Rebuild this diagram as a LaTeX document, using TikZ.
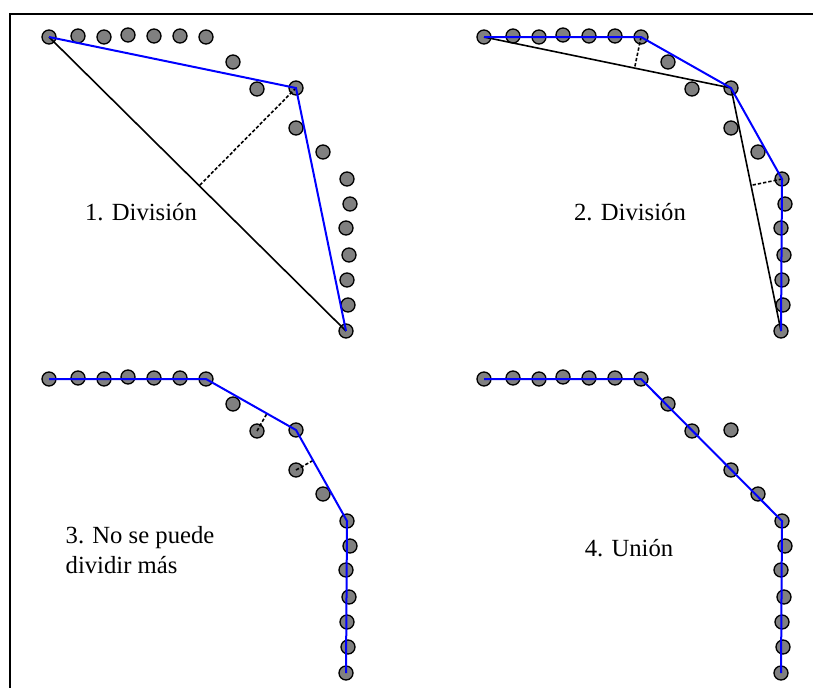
\documentclass[tikz,border=0pt]{standalone}
\usepackage{fontspec}
\setmainfont{Liberation Serif}
\usetikzlibrary{calc}

\begin{document}
\begin{tikzpicture}[x=0.75pt,y=-0.75pt,
    dot/.style={circle,draw=black,fill=gray,line width=1pt,inner sep=0pt,minimum size=10.5pt},
    chord/.style={black,line width=1.2pt},
    hull/.style={blue,line width=1.5pt},
    gap/.style={black,line width=1.2pt,dash pattern=on 2.5pt off 1.5pt},
    lbl/.style={font=\fontsize{18.5}{22}\selectfont}]
    \path[use as bounding box,clip] (0,0) rectangle (813,687);
    \draw[line width=1.5pt] (10,14) rectangle (900,800);

    % the same points in the four panels
    \foreach \k/\dx/\dy in {a/0/0,b/435/0,c/0/342,d/435/342} {
      \foreach \px/\py [count=\i] in {49/37,78/36,104/37,128/35,154/36,180/36,206/37,
          233/62,257/89,296/88,296/128,323/152,347/179,350/204,346/228,349/255,
          347/280,348/305,346/331} {
        \node[dot] (\k\i) at (\px+\dx,\py+\dy) {};
      }
    }

    % 1. first split
    \draw[chord] (a1.center) -- (a19.center);
    \draw[gap] (a10.center) -- ($(a1)!(a10)!(a19)$);
    \draw[hull] (a1.center) -- (a10.center) -- (a19.center);
    \node[lbl] (lbla) at (141,212) {1. División};

    % 2. second split
    \draw[chord] (b1.center) -- (b10.center) -- (b19.center);
    \draw[gap] (b7.center) -- ($(b1)!(b7)!(b10)$);
    \draw[gap] (b13.center) -- ($(b10)!(b13)!(b19)$);
    \draw[hull] (b1.center) -- (b7.center) -- (b10.center) -- (b13.center) -- (b19.center);
    \node[lbl] (lblb) at (630,212) {2. División};

    % 3. nothing left to split
    \draw[gap] (c9.center) -- ($(c7)!(c9)!(c10)$);
    \draw[gap] (c11.center) -- ($(c10)!(c11)!(c13)$);
    \draw[hull] (c1.center) -- (c7.center) -- (c10.center) -- (c13.center) -- (c19.center);
    \node[lbl,align=left,anchor=west] (lblc) at (61,550) {3. No se puede\\dividir más};

    % 4. merge
    \draw[hull] (d1.center) -- (d7.center) -- (d13.center) -- (d19.center);
    \node[lbl] (lbld) at (629,548) {4. Unión};
\end{tikzpicture}
\end{document}
